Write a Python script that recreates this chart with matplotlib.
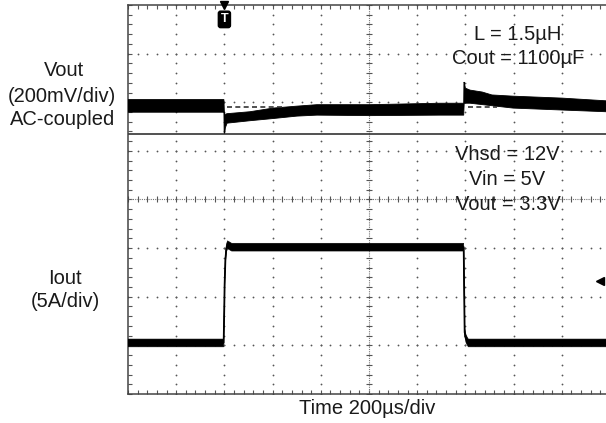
import numpy as np
import matplotlib
matplotlib.use('Agg')
import matplotlib.pyplot as plt
import matplotlib.transforms as mtransforms

plt.rcParams['font.family'] = ['Liberation Sans', 'DejaVu Sans']

# scope settings
time_per_div = 200       # us/div
vout_per_div = 200       # mV/div
iout_per_div = 5         # A/div
n_xdiv, n_ydiv = 10, 8
vout_pos_div = 5.90      # channel position, div from bottom
iout_pos_div = 1.05
sep_div = 5.35
trigger_time = 400       # us

# Vout (AC-coupled) noise envelope, mV
vout_up_t = [0, 398, 400, 403, 411, 506, 602, 701, 784, 1004, 1295, 1393, 1394, 1396, 1400, 1419, 1470, 1510, 1598, 1801, 1983, 2000]
vout_up_v = [31, 31, -25, -30, -27, -19, -4, 4, 10, 10, 16, 16, 103, 100, 78, 70, 62, 50, 45, 37, 26, 25]
vout_lo_t = [0, 398, 399, 401.5, 404, 411, 506, 602, 701, 784, 1004, 1295, 1393, 1395, 1419, 1598, 1801, 1983, 2000]
vout_lo_v = [-21, -21, -107, -107, -85, -66, -56, -47, -37, -33, -35, -33, -33, 16, 16, -4, -12, -19, -21]
vout_ref_t = [[411, 643], [1411, 1531]]

# Iout, A
iout_t = [0, 397, 399, 401, 404, 408, 413, 430, 1393, 1395, 1397, 1403, 1412, 2000]
iout_a = [0, 0, 3.0, 6.0, 8.5, 9.7, 10.1, 9.85, 9.85, 5.0, 1.1, 0.4, 0.0, 0.0]
iout_noise = 0.4

W, H = 606, 423
fig = plt.figure(figsize=(W / 100, H / 100), dpi=100)
pos = [128 / W, 29 / H, 482 / W, 389 / H]

# graticule axes in divisions
ax = fig.add_axes(pos)
ax.set_xlim(0, n_xdiv)
ax.set_ylim(0, n_ydiv)
gc = '#555555'
for s in ax.spines.values():
    s.set_color('#444444')
    s.set_linewidth(1.1)
ax.set_xticks(np.arange(0, n_xdiv + 0.01, 1))
ax.set_yticks(np.arange(0, n_ydiv + 0.01, 1))
ax.set_xticks(np.arange(0, n_xdiv + 0.01, 0.2), minor=True)
ax.set_yticks(np.arange(0, n_ydiv + 0.01, 0.2), minor=True)
ax.tick_params(which='both', direction='in', top=True, right=True,
               length=3, width=0.8, color=gc,
               labelbottom=False, labelleft=False)

sub_y = np.arange(0, n_ydiv + 0.01, 0.2)
sub_x = np.arange(0, n_xdiv + 0.01, 0.2)
for gx in range(1, n_xdiv):
    if gx == n_xdiv // 2:
        continue
    ax.plot(np.full_like(sub_y, gx), sub_y, 'o', ms=1.3, color=gc, mew=0)
for gy in range(1, n_ydiv):
    if gy == n_ydiv // 2:
        continue
    ax.plot(sub_x, np.full_like(sub_x, gy), 'o', ms=1.3, color=gc, mew=0)

# centre axes with subdivision ticks
ax.axhline(n_ydiv / 2, color='#777777', lw=0.8, ls=(0, (1, 1)))
ax.axvline(n_xdiv / 2, color='#777777', lw=0.8, ls=(0, (1, 1)))
ax.plot(sub_x, np.full_like(sub_x, n_ydiv / 2), '|', ms=5, color=gc, mew=0.8)
ax.plot(np.full_like(sub_y, n_xdiv / 2), sub_y, '_', ms=5, color=gc, mew=0.8)
ax.axhline(sep_div, color='#333333', lw=1.2)

# channel axes
t_span = time_per_div * n_xdiv
axv = fig.add_axes(pos)
axv.set_xlim(0, t_span)
axv.set_ylim(-vout_pos_div * vout_per_div, (n_ydiv - vout_pos_div) * vout_per_div)
axv.axis('off')
axi = fig.add_axes(pos)
axi.set_xlim(0, t_span)
axi.set_ylim(-iout_pos_div * iout_per_div, (n_ydiv - iout_pos_div) * iout_per_div)
axi.axis('off')

axv.fill(np.r_[vout_up_t, vout_lo_t[::-1]], np.r_[vout_up_v, vout_lo_v[::-1]],
         facecolor='black', edgecolor='black', lw=0.6)
for t0, t1 in vout_ref_t:
    axv.hlines(0, t0, t1, color='#333333', lw=1.2, ls=(0, (3, 2)))

it = np.array(iout_t)
ia = np.array(iout_a)
axi.fill(np.r_[it, it[::-1]], np.r_[ia + iout_noise, (ia - iout_noise)[::-1]],
         facecolor='black', edgecolor='black', lw=0.4)
axi.plot(it, ia, color='black', lw=1.3)

# trigger marker
tr = mtransforms.blended_transform_factory(axv.transData, axv.transAxes)
axv.plot([trigger_time], [1.0], 'v', ms=6, color='black', transform=tr, clip_on=False)
axv.text(trigger_time, 0.963, 'T', transform=tr, ha='center', va='center',
         fontsize=9, fontweight='bold', color='white',
         bbox=dict(boxstyle='round,pad=0.18', fc='black', ec='black'))
ax.plot([9.79], [2.32], '<', ms=6, color='black', clip_on=False)

tc = '#1a1a1a'
fs = 14.5
def ptext(x, y, s):
    fig.text(x / W, 1 - y / H, s, ha='center', va='center', fontsize=fs, color=tc)

ptext(518, 35, 'L = 1.5µH')
ptext(518, 59, 'Cout = 1100µF')
ptext(507, 155, 'Vhsd = 12V')
ptext(507, 179, 'Vin = 5V')
ptext(508, 205, 'Vout = 3.3V')
ptext(64, 70, 'Vout')
ptext(62, 96, '(200mV/div)')
ptext(63, 119, 'AC-coupled')
ptext(65, 278, 'Iout')
ptext(65, 301, '(5A/div)')
ptext(367, 408, 'Time 200µs/div')

fig.savefig('out.png', dpi=100)
